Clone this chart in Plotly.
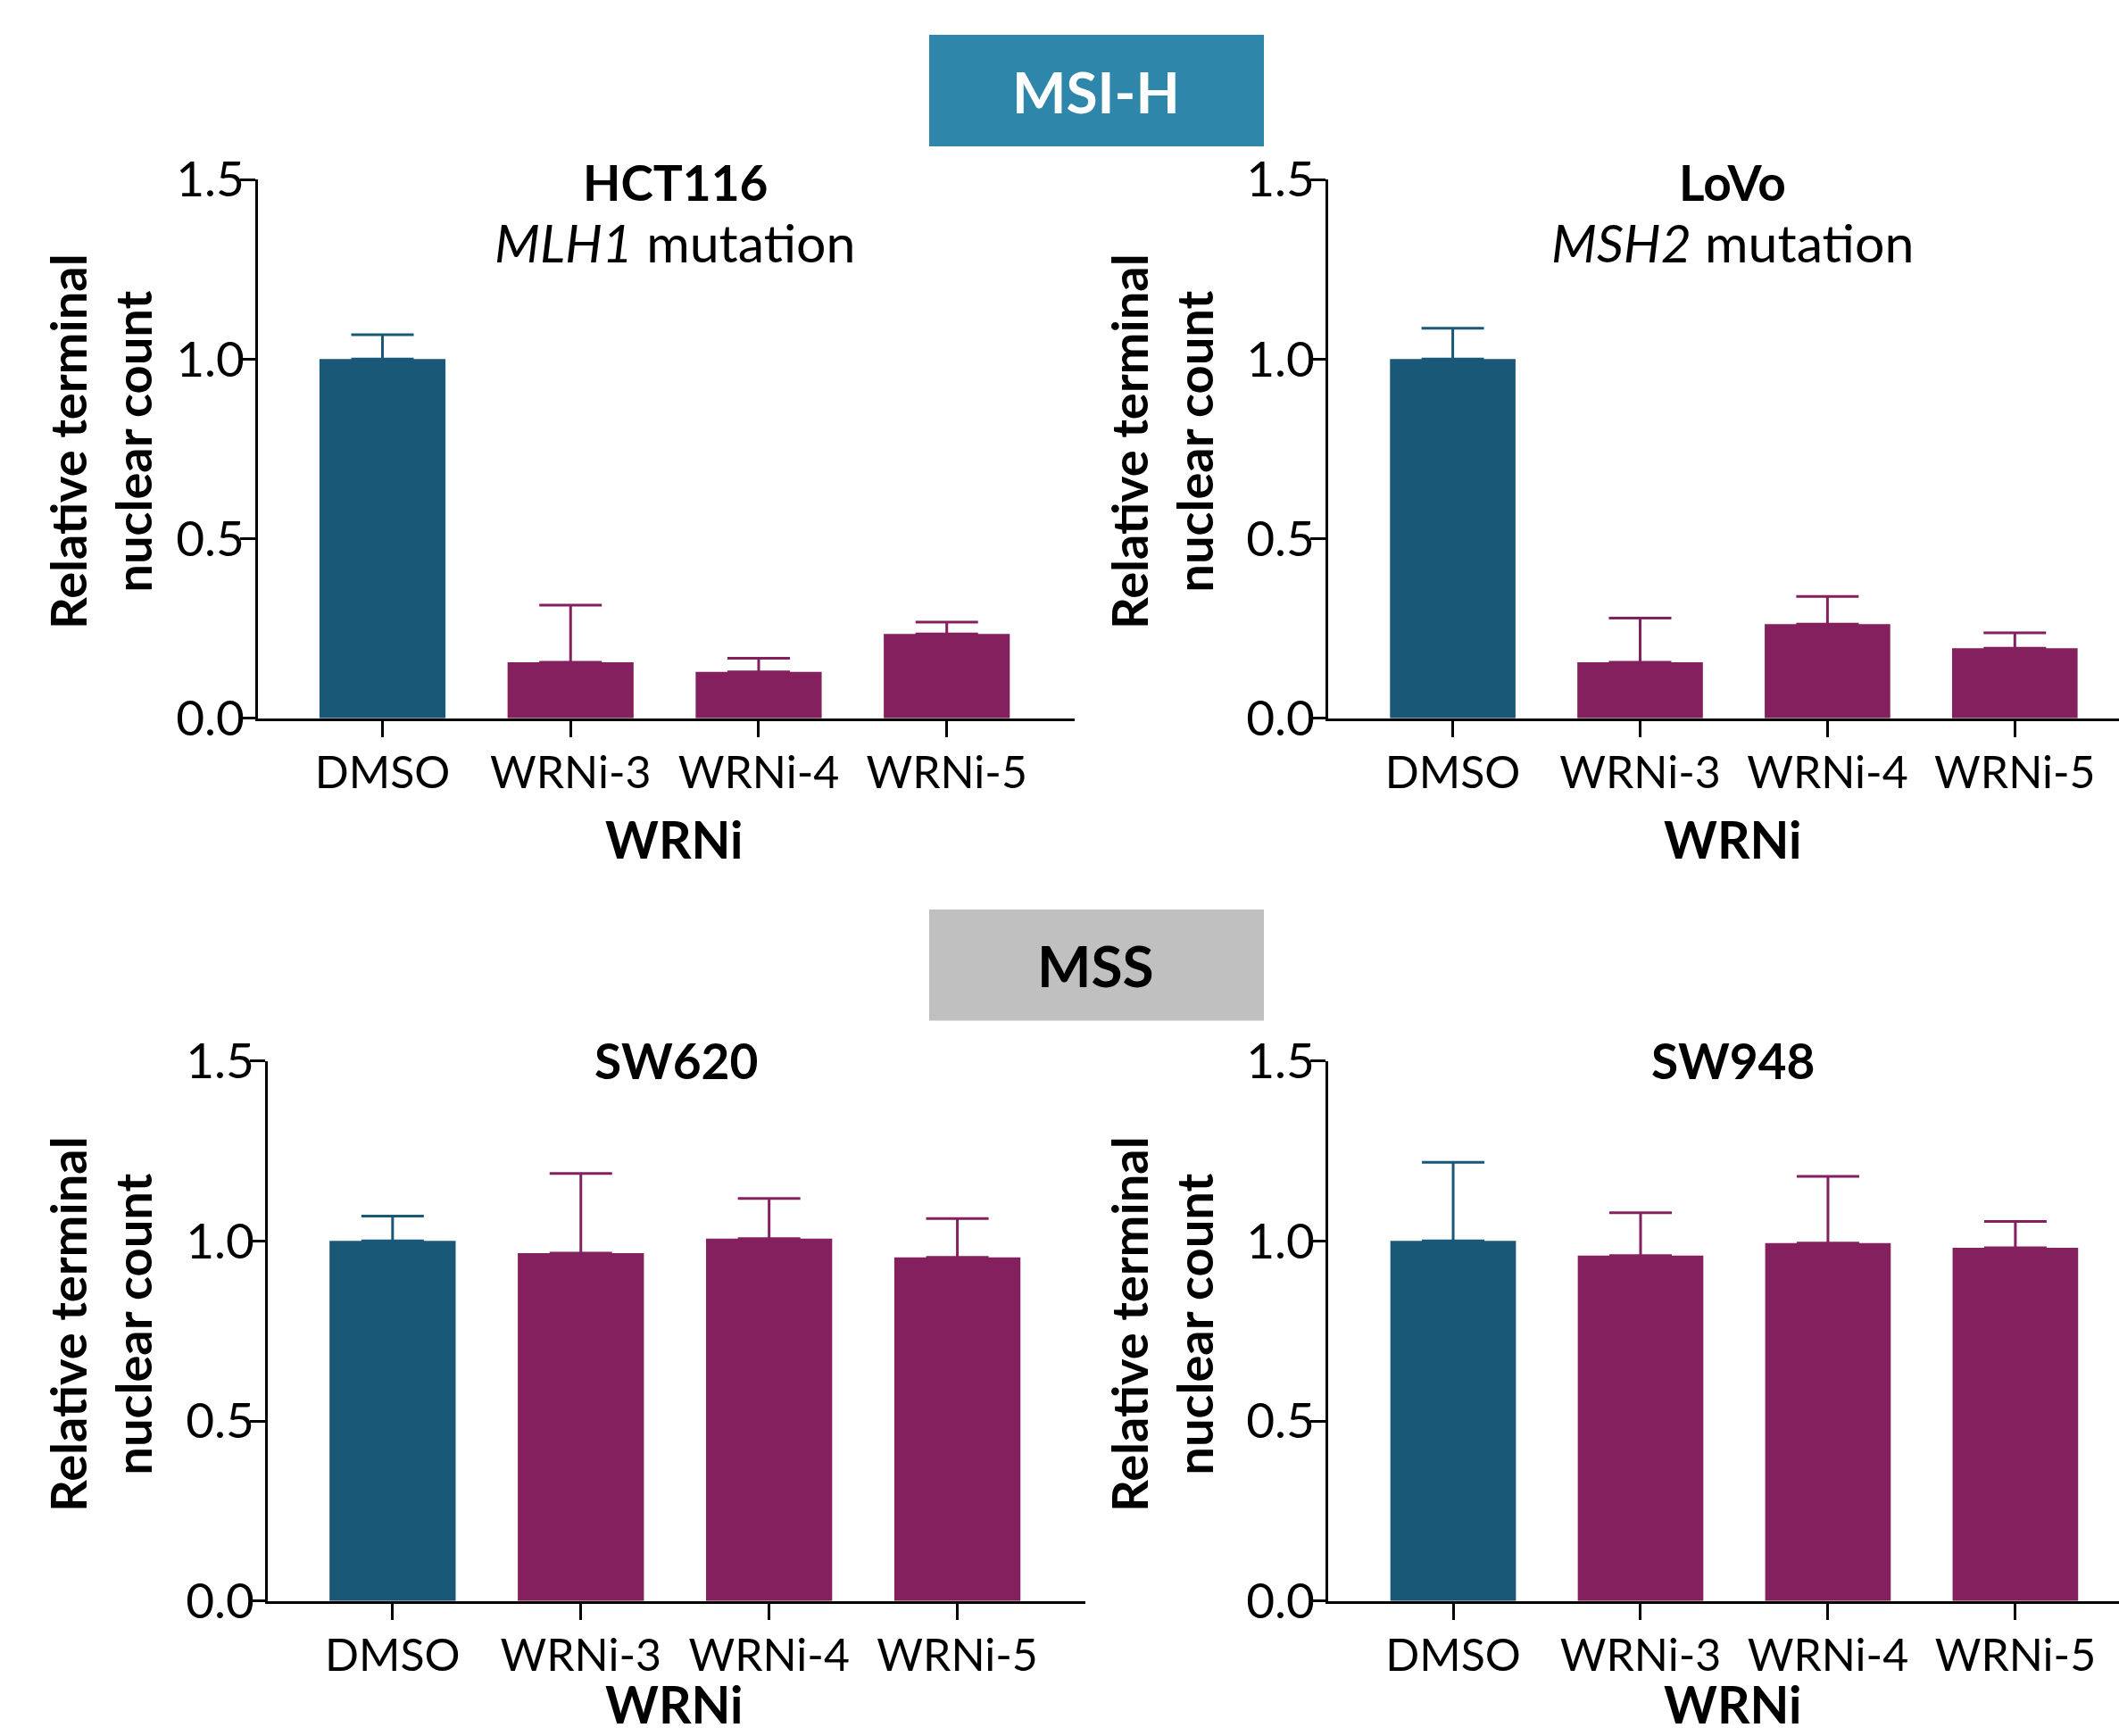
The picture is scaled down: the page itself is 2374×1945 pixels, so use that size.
import plotly.graph_objects as go

categories = ["DMSO", "WRNi-3", "WRNi-4", "WRNi-5"]

hct116_mean = [1.0, 0.156, 0.129, 0.235]
hct116_err = [0.068, 0.159, 0.038, 0.033]
lovo_mean = [1.0, 0.156, 0.262, 0.195]
lovo_err = [0.086, 0.123, 0.077, 0.043]
sw620_mean = [1.0, 0.966, 1.006, 0.954]
sw620_err = [0.069, 0.221, 0.112, 0.108]
sw948_mean = [1.0, 0.959, 0.994, 0.981]
sw948_err = [0.218, 0.119, 0.185, 0.073]

panel_titles = ["HCT116", "LoVo", "SW620", "SW948"]
panel_subtitles = ["<i>MLH1</i> mutation", "<i>MSH2</i> mutation", "", ""]
y_ticks = [0.0, 0.5, 1.0, 1.5]

W, H = 2374, 1945
BLUE = "#1A5878"
PURPLE = "#84205E"
FONT = "Lato"


def fx(px):
    return px / W


def fy(py):
    return 1 - py / H


# pixel layout of each panel: (x_left, x_right, y_top, y_bottom, xrange)
panels = [
    (289, 1204, 201, 804.8, [-0.662, 3.68]),
    (1488, 2374, 201, 804.8, [-0.665, 3.556]),
    (300, 1216, 1188.5, 1793.8, [-0.663, 3.68]),
    (1488, 2374, 1188.5, 1793.8, [-0.667, 3.553]),
]
means = [hct116_mean, lovo_mean, sw620_mean, sw948_mean]
errs = [hct116_err, lovo_err, sw620_err, sw948_err]

fig = go.Figure()
layout = {}
for i, (xl, xr, yt, yb, xrng) in enumerate(panels):
    n = i + 1
    xa = "x" if n == 1 else f"x{n}"
    ya = "y" if n == 1 else f"y{n}"
    m, e = means[i], errs[i]
    fig.add_trace(go.Bar(
        x=categories[:1], y=m[:1], xaxis=xa, yaxis=ya, width=0.67,
        marker=dict(color=BLUE, line=dict(width=0)),
        error_y=dict(type="data", symmetric=False, array=e[:1], arrayminus=[0],
                     color=BLUE, thickness=3, width=35),
        showlegend=False))
    fig.add_trace(go.Bar(
        x=categories[1:], y=m[1:], xaxis=xa, yaxis=ya, width=0.67,
        marker=dict(color=PURPLE, line=dict(width=0)),
        error_y=dict(type="data", symmetric=False, array=e[1:], arrayminus=[0] * 3,
                     color=PURPLE, thickness=3, width=35),
        showlegend=False))
    layout[f"xaxis{'' if n == 1 else n}"] = dict(
        domain=[fx(xl), fx(xr)], range=xrng, anchor=ya, automargin=False,
        type="category", categoryorder="array", categoryarray=categories,
        showline=True, linecolor="black", linewidth=3,
        ticks="outside", ticklen=18, tickwidth=3, tickcolor="black",
        ticklabelstandoff=-3,
        tickfont=dict(family=FONT, size=50, color="black"),
        showgrid=False, zeroline=False, fixedrange=True)
    layout[f"yaxis{'' if n == 1 else n}"] = dict(
        domain=[fy(yb), fy(yt)], range=[0, 1.5], anchor=xa, automargin=False,
        tickvals=y_ticks, tickformat=".1f",
        showline=True, linecolor="black", linewidth=3,
        ticks="outside", ticklen=17, tickwidth=3, tickcolor="black",
        ticklabelstandoff=-16,
        tickfont=dict(family=FONT, size=55, color="black"),
        showgrid=False, zeroline=False, fixedrange=True)

annotations = []


def ann(text, x, y, size, bold=False, color="black", angle=0):
    annotations.append(dict(
        text=f"<b>{text}</b>" if bold else text,
        x=fx(x), y=fy(y), xref="paper", yref="paper",
        xanchor="center", yanchor="middle", showarrow=False,
        textangle=angle,
        font=dict(family=FONT, size=size, color=color)))


title_pos = [(756, 204), (1941, 204), (757, 1188), (1941, 1188)]
sub_pos = [(756, 272), (1941, 272)]
for i, (x, y) in enumerate(title_pos):
    ann(panel_titles[i], x, y, 55, bold=True)
for i, (x, y) in enumerate(sub_pos):
    ann(panel_subtitles[i], x, y, 59)

ytitle_pos = [(112, 495), (1301, 495), (112, 1484), (1301, 1484)]
for x, y in ytitle_pos:
    ann("Relative terminal<br>nuclear count", x, y, 56, bold=True, angle=-90)

xtitle_pos = [(755, 940), (1941, 940), (755, 1909), (1941, 1909)]
for x, y in xtitle_pos:
    ann("WRNi", x, y, 57, bold=True)

ann("MSI-H", 1228, 102, 64, bold=True, color="white")
ann("MSS", 1228, 1081, 64, bold=True, color="black")

shapes = [
    dict(type="rect", xref="paper", yref="paper", x0=fx(1041), x1=fx(1416),
         y0=fy(164), y1=fy(39), fillcolor="#2E86AB", line=dict(width=0), layer="below"),
    dict(type="rect", xref="paper", yref="paper", x0=fx(1041), x1=fx(1416),
         y0=fy(1143.5), y1=fy(1019), fillcolor="#C0C0C0", line=dict(width=0), layer="below"),
]

fig.update_layout(
    width=W, height=H, autosize=False,
    margin=dict(l=0, r=0, t=0, b=0, pad=0, autoexpand=False),
    paper_bgcolor="white", plot_bgcolor="white",
    font=dict(family=FONT, color="black"),
    annotations=annotations, shapes=shapes, bargap=0.33,
    **layout)

fig.write_html(
    "out.html",
    config={"responsive": False, "displayModeBar": False},
    post_script="document.body.style.margin='0px';",
)
